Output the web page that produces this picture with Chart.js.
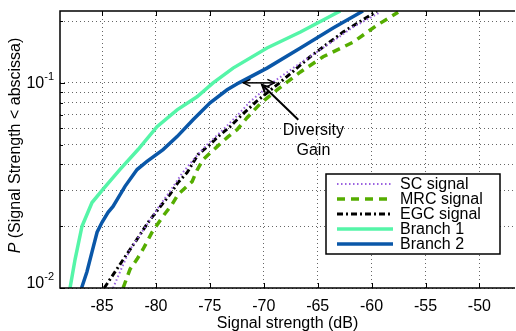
<!DOCTYPE html>
<html>
<head>
<meta charset="utf-8">
<script src="https://cdn.jsdelivr.net/npm/chart.js@4"></script>
<style>
  html, body { margin: 0; padding: 0; background: #fff; }
</style>
</head>
<body>
<canvas id="cdf-chart" width="516" height="331"></canvas>
<script>
const scX = [-83.98, -83.33, -82.4, -81.0, -79.9, -78.7, -77.58, -76.37, -75.26, -73.78, -72.38, -71.27, -69.1, -66.6, -64.1, -61.7, -59.2];
const scY = [0.0100, 0.0120, 0.01545, 0.0198, 0.0242, 0.0296, 0.0362, 0.0432, 0.050, 0.0591, 0.070, 0.081, 0.1011, 0.125, 0.153, 0.187, 0.221];

const mrcX = [-83.05, -82.4, -81.75, -81.2, -80.36, -79.34, -78.5, -77.95, -76.65, -76.2, -75.63, -74.33, -73.3, -72.48, -71.55, -70.34, -68.77, -66.6, -64.5, -61.7, -59.5, -57.54];
const mrcY = [0.0100, 0.01236, 0.01383, 0.01545, 0.0187, 0.0224, 0.0256, 0.0286, 0.0330, 0.0374, 0.0423, 0.0489, 0.0547, 0.0591, 0.0676, 0.079, 0.0925, 0.113, 0.134, 0.158, 0.191, 0.221];

const egcX = [-84.8, -83.14, -81.75, -80.73, -79.43, -78.7, -77.95, -77.1, -76.1, -75.0, -74.24, -73.13, -72.2, -70.7, -68.2, -65.7, -62.64, -60.1, -59.5];
const egcY = [0.0100, 0.0135, 0.0173, 0.0209, 0.0256, 0.0286, 0.0327, 0.0366, 0.0447, 0.050, 0.0547, 0.0611, 0.0684, 0.081, 0.1035, 0.134, 0.177, 0.214, 0.224];

const branch1X = [-87.97, -87.5, -86.86, -85.93, -84.9, -83.33, -81.66, -79.9, -78.04, -76.19, -74.7, -72.85, -69.7, -66.6, -62.9];
const branch1Y = [0.0100, 0.0138, 0.0200, 0.0261, 0.0303, 0.0379, 0.0473, 0.0611, 0.0739, 0.0855, 0.100, 0.118, 0.148, 0.177, 0.224];

const branch2X = [-86.9, -86.4, -85.93, -85.46, -85.0, -84.44, -83.98, -82.87, -81.75, -80.83, -79.34, -78.04, -76.56, -74.98, -73.4, -72.3, -69.7, -66.6, -63.57, -60.8];
const branch2Y = [0.0100, 0.0120, 0.0150, 0.0187, 0.0209, 0.0234, 0.0250, 0.0313, 0.0378, 0.0414, 0.0473, 0.0547, 0.0661, 0.080, 0.0925, 0.100, 0.118, 0.148, 0.185, 0.224];

const xTicks = [-85, -80, -75, -70, -65, -60, -55, -50];
const yTicks = [0.01, 0.02, 0.03, 0.04, 0.05, 0.06, 0.07, 0.08, 0.09, 0.1, 0.2];
const yLabelTicks = [0.01, 0.1];

const FONT = "'Liberation Sans', Arial, Helvetica, sans-serif";

function pts(xs, ys) {
    return xs.map((x, i) => ({ x: x, y: ys[i] }));
}

const series = [
    { label: 'SC signal',  x: scX,      y: scY,      color: '#9a62e0', width: 2,   dash: [1.5, 2.5] },
    { label: 'MRC signal', x: mrcX,     y: mrcY,     color: '#55ad00', width: 3.5, dash: [8, 6] },
    { label: 'EGC signal', x: egcX,     y: egcY,     color: '#000000', width: 3,   dash: [6, 3, 2, 3] },
    { label: 'Branch 1',   x: branch1X, y: branch1Y, color: '#55f5a8', width: 3.5, dash: [] },
    { label: 'Branch 2',   x: branch2X, y: branch2Y, color: '#0a57a8', width: 3.5, dash: [] }
];

const datasets = series.map(s => ({
    label: s.label,
    data: pts(s.x, s.y),
    borderColor: s.color,
    borderWidth: s.width,
    borderDash: s.dash,
    pointRadius: 0,
    fill: false,
    tension: 0
}));

function arrowHead(ctx, x1, y1, x2, y2) {
    const ang = Math.atan2(y2 - y1, x2 - x1);
    const len = 8, spread = 0.45;
    ctx.beginPath();
    ctx.moveTo(x2 - len * Math.cos(ang - spread), y2 - len * Math.sin(ang - spread));
    ctx.lineTo(x2, y2);
    ctx.lineTo(x2 - len * Math.cos(ang + spread), y2 - len * Math.sin(ang + spread));
    ctx.stroke();
}

const matlabDecor = {
    id: 'matlabDecor',
    afterDraw(chart) {
        const ctx = chart.ctx;
        const a = chart.chartArea;
        const xs = chart.scales.x, ys = chart.scales.y;
        ctx.save();

        // annotation: diversity gain
        ctx.strokeStyle = '#000';
        ctx.lineWidth = 1.5;
        const hx1 = xs.getPixelForValue(-69.0), hx2 = xs.getPixelForValue(-71.9), hy = ys.getPixelForValue(0.1);
        ctx.beginPath(); ctx.moveTo(hx1, hy); ctx.lineTo(hx2, hy); ctx.stroke();
        arrowHead(ctx, hx1, hy, hx2, hy);
        arrowHead(ctx, hx2, hy, hx1, hy);
        const dx1 = xs.getPixelForValue(-66.8), dy1 = ys.getPixelForValue(0.0661);
        const dx2 = xs.getPixelForValue(-70.16), dy2 = ys.getPixelForValue(0.0978);
        ctx.lineWidth = 2;
        ctx.beginPath(); ctx.moveTo(dx1, dy1); ctx.lineTo(dx2, dy2); ctx.stroke();
        arrowHead(ctx, dx1, dy1, dx2, dy2);

        ctx.fillStyle = '#000';
        ctx.font = '16px ' + FONT;
        ctx.textAlign = 'center';
        ctx.textBaseline = 'middle';
        const tx = xs.getPixelForValue(-65.4);
        ctx.fillText('Diversity', tx, ys.getPixelForValue(0.0585));
        ctx.fillText('Gain', tx, ys.getPixelForValue(0.0470));

        // legend box
        const lr = a.right - 15, lb = a.bottom - 34;
        const ll = lr - 174, lt = lb - 80;
        ctx.fillStyle = '#fff';
        ctx.fillRect(ll, lt, lr - ll, lb - lt);
        ctx.strokeStyle = '#000';
        ctx.lineWidth = 1.5;
        ctx.strokeRect(ll, lt, lr - ll, lb - lt);
        ctx.textAlign = 'left';
        ctx.font = '16px ' + FONT;
        series.forEach((s, i) => {
            const yy = lt + 10 + i * 15;
            ctx.save();
            ctx.strokeStyle = s.color;
            ctx.lineWidth = s.width;
            ctx.setLineDash(s.dash);
            ctx.beginPath(); ctx.moveTo(ll + 11, yy); ctx.lineTo(ll + 67, yy); ctx.stroke();
            ctx.restore();
            ctx.fillStyle = '#000';
            ctx.fillText(s.label, ll + 74, yy + 1);
        });

        // axes box (left, top, bottom) and inner ticks
        ctx.strokeStyle = '#000';
        ctx.lineWidth = 1.5;
        ctx.beginPath();
        ctx.moveTo(a.right, a.top); ctx.lineTo(a.left, a.top);
        ctx.lineTo(a.left, a.bottom); ctx.lineTo(a.right, a.bottom);
        ctx.stroke();
        ctx.lineWidth = 1;
        xTicks.forEach(v => {
            const px = Math.round(xs.getPixelForValue(v)) + 0.5;
            ctx.beginPath();
            ctx.moveTo(px, a.bottom); ctx.lineTo(px, a.bottom - 5);
            ctx.moveTo(px, a.top); ctx.lineTo(px, a.top + 5);
            ctx.stroke();
        });
        yTicks.forEach(v => {
            const py = Math.round(ys.getPixelForValue(v)) + 0.5;
            const len = yLabelTicks.includes(v) ? 5 : 3;
            ctx.beginPath(); ctx.moveTo(a.left, py); ctx.lineTo(a.left + len, py); ctx.stroke();
        });

        // y tick labels 10^-1, 10^-2
        ctx.fillStyle = '#000';
        yLabelTicks.forEach(v => {
            let py = ys.getPixelForValue(v);
            if (py > a.bottom - 6) py = a.bottom - 5;
            const exp = String(Math.round(Math.log10(v)));
            ctx.font = '11px ' + FONT;
            const supW = ctx.measureText(exp).width;
            ctx.textAlign = 'left';
            ctx.fillText(exp, a.left - 6 - supW, py - 6);
            ctx.font = '16px ' + FONT;
            ctx.textAlign = 'right';
            ctx.fillText('10', a.left - 6 - supW, py + 1);
        });

        // y title with italic P
        ctx.save();
        ctx.translate(16, (a.top + a.bottom) / 2 - 4);
        ctx.rotate(-Math.PI / 2);
        ctx.textAlign = 'left';
        const rest = ' (Signal Strength < abscissa)';
        ctx.font = 'italic 16px ' + FONT;
        const pW = ctx.measureText('P').width;
        ctx.font = '16px ' + FONT;
        const rW = ctx.measureText(rest).width;
        const start = -(pW + rW) / 2;
        ctx.font = 'italic 16px ' + FONT;
        ctx.fillText('P', start, 0);
        ctx.font = '16px ' + FONT;
        ctx.fillText(rest, start + pW, 0);
        ctx.restore();

        ctx.restore();
    }
};

const config = {
    type: 'line',
    data: { datasets: datasets },
    options: {
        responsive: false,
        animation: false,
        events: [],
        layout: { padding: { top: 11, right: 1, left: 0, bottom: 0 } },
        plugins: {
            legend: { display: false },
            tooltip: { enabled: false }
        },
        scales: {
            x: {
                type: 'linear',
                min: -88.9,
                max: -46.7,
                afterBuildTicks: scale => { scale.ticks = xTicks.map(v => ({ value: v })); },
                afterFit: scale => { scale.height = 43; },
                grid: { color: 'rgba(0,0,0,0.6)', lineWidth: 1, drawTicks: false },
                border: { display: false, dash: [1, 3] },
                ticks: {
                    color: '#000',
                    padding: 9,
                    maxRotation: 0,
                    font: { family: FONT, size: 16 }
                },
                title: {
                    display: true,
                    text: 'Signal strength (dB)',
                    color: '#000',
                    padding: { top: 0, bottom: -2 },
                    font: { family: FONT, size: 16 }
                }
            },
            y: {
                type: 'logarithmic',
                min: 0.01,
                max: 0.224,
                afterBuildTicks: scale => { scale.ticks = yTicks.map(v => ({ value: v })); },
                afterFit: scale => { scale.width = 60; },
                grid: { color: 'rgba(0,0,0,0.6)', lineWidth: 1, drawTicks: false },
                border: { display: false, dash: [1, 3] },
                ticks: { display: false }
            }
        }
    },
    plugins: [matlabDecor]
};

new Chart(document.getElementById('cdf-chart'), config);
</script>
</body>
</html>
